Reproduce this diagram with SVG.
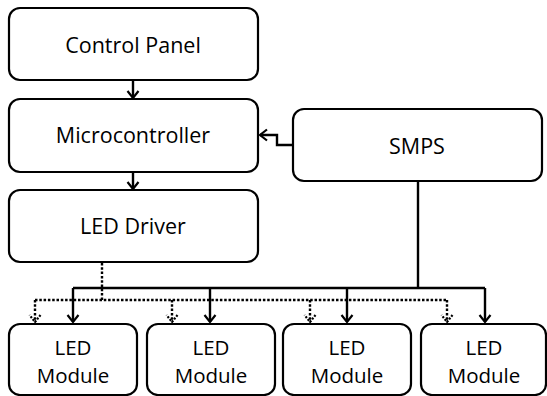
<svg xmlns="http://www.w3.org/2000/svg" width="547" height="396" viewBox="0 0 547 396">
<defs>
<style>
.box{fill:#fff;stroke:#000;stroke-width:2.2}
.t{font-family:"Open Sans","Liberation Sans",sans-serif;font-size:21.5px;fill:#000;text-anchor:middle}
.m{font-size:20.5px}
.s{fill:none;stroke:#000;stroke-width:2.4}
.d{fill:none;stroke:#000;stroke-width:2.4;stroke-dasharray:2.5 1.8}
</style>
<marker id="a" viewBox="-9 -8 11 16" refX="0" refY="0" markerWidth="11" markerHeight="16" markerUnits="userSpaceOnUse" orient="auto">
<path d="M-7,-5.5 L0,0 L-7,5.5" fill="none" stroke="#000" stroke-width="2.2"/>
</marker>
<marker id="ad" viewBox="-9 -8 11 16" refX="0" refY="0" markerWidth="11" markerHeight="16" markerUnits="userSpaceOnUse" orient="auto">
<path d="M-7,-5.5 L0,0 L-7,5.5" fill="none" stroke="#000" stroke-width="2.2" stroke-dasharray="2 1.5"/>
</marker>
</defs>
<rect width="547" height="396" fill="#fff"/>
<g id="connectors">
<path class="s" d="M133,80 V98" marker-end="url(#a)"/>
<path class="s" d="M133,172 V189" marker-end="url(#a)"/>
<path class="s" d="M293,145 H277 V135 H260" marker-end="url(#a)"/>
<path class="s" d="M418,181 V288"/>
<path class="s" d="M73,288 H485"/>
<path class="s" d="M73,288 V322" marker-end="url(#a)"/>
<path class="s" d="M210,288 V322" marker-end="url(#a)"/>
<path class="s" d="M347,288 V322" marker-end="url(#a)"/>
<path class="s" d="M485,288 V322" marker-end="url(#a)"/>
<path class="d" d="M102,263 V300"/>
<path class="d" d="M35,300 H447"/>
<path class="d" d="M35,300 V322" marker-end="url(#ad)"/>
<path class="d" d="M172,300 V322" marker-end="url(#ad)"/>
<path class="d" d="M310,300 V322" marker-end="url(#ad)"/>
<path class="d" d="M447,300 V322" marker-end="url(#ad)"/>
</g>
<g id="control-panel">
<rect class="box" x="9" y="8" width="249" height="72" rx="11"/>
<text class="t" x="133" y="53">Control Panel</text>
</g>
<g id="microcontroller">
<rect class="box" x="9" y="99" width="249" height="73" rx="11"/>
<text class="t" x="133" y="143">Microcontroller</text>
</g>
<g id="led-driver">
<rect class="box" x="9" y="190" width="249" height="72" rx="11"/>
<text class="t" x="133" y="234">LED Driver</text>
</g>
<g id="smps">
<rect class="box" x="293" y="109" width="249" height="72" rx="11"/>
<text class="t" x="417" y="154">SMPS</text>
</g>
<g id="led-module-1">
<rect class="box" x="9" y="324" width="128" height="71" rx="11"/>
<text class="t m" x="73" y="355">LED</text>
<text class="t m" x="73" y="383">Module</text>
</g>
<g id="led-module-2">
<rect class="box" x="147" y="324" width="128" height="71" rx="11"/>
<text class="t m" x="211" y="355">LED</text>
<text class="t m" x="211" y="383">Module</text>
</g>
<g id="led-module-3">
<rect class="box" x="283" y="324" width="128" height="71" rx="11"/>
<text class="t m" x="347" y="355">LED</text>
<text class="t m" x="347" y="383">Module</text>
</g>
<g id="led-module-4">
<rect class="box" x="421" y="324" width="125" height="71" rx="11"/>
<text class="t m" x="484" y="355">LED</text>
<text class="t m" x="484" y="383">Module</text>
</g>
</svg>
